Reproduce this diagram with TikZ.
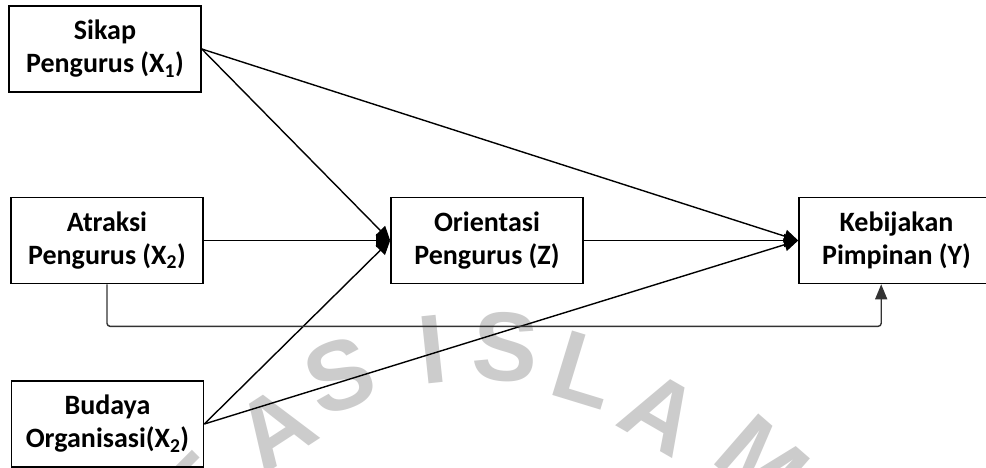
\documentclass[tikz,border=0pt]{standalone}
\usepackage{fontspec}
\setmainfont{Carlito}
\newfontfamily\wmfont{Liberation Sans}
\usetikzlibrary{arrows.meta,calc}

\tikzset{
  varbox/.style={draw=black, line width=1.6pt, minimum width=192pt, minimum height=86pt,
    inner sep=0pt, align=center, font=\fontsize{28}{33}\selectfont\bfseries},
  link/.style={line width=1.4pt, -{Triangle[length=14pt,width=13pt]}},
  sidelink/.style={line width=1.4pt, draw=black!80, rounded corners=3pt,
    -{Triangle[length=15pt,width=12pt]}},
  wm/.style={text=black!20, font=\fontsize{98}{98}\selectfont\wmfont\bfseries, inner sep=0pt}
}

\begin{document}
\begin{tikzpicture}[x=1pt,y=-1pt]
  \useasboundingbox (0,0) rectangle (986,467);
  \fill[white] (0,0) rectangle (986,467);

  % faint lettering along an arc behind the diagram
  \foreach \ch/\px/\py/\r [count=\i] in {T/196/494/45, A/275/428/33, S/340/376/20,
      I/433/350/6, S/505/347/-4, L/585/370/-17, A/661/413/-30, M/762/462/-41}
    \node[wm, rotate=\r] (wm\i) at (\px,\py) {\ch};

  % variables
  \node[varbox] (x1) at (105,49)    {Sikap\\Pengurus (X\textsubscript{1})};
  \node[varbox] (x2) at (107,240.5) {Atraksi\\Pengurus (X\textsubscript{2})};
  \node[varbox] (x3) at (107.5,424) {Budaya\\Organisasi(X\textsubscript{2})};
  \node[varbox] (z)  at (487,240.5) {Orientasi\\Pengurus (Z)};
  \node[varbox, minimum width=195pt] (y) at (896.5,240.5) {Kebijakan\\Pimpinan (Y)};

  % paths
  \draw[link] (x1.east) -- (z.west);
  \draw[link] (x1.east) -- (y.west);
  \draw[link] (x2.east) -- (z.west);
  \draw[link] (x3.east) -- (z.west);
  \draw[link] (x3.east) -- (y.west);
  \draw[link] (z.east) -- (y.west);
  \draw[sidelink] (x2.south) -- ++(0,42) -| ([xshift=83pt]y.south west);
\end{tikzpicture}
\end{document}
